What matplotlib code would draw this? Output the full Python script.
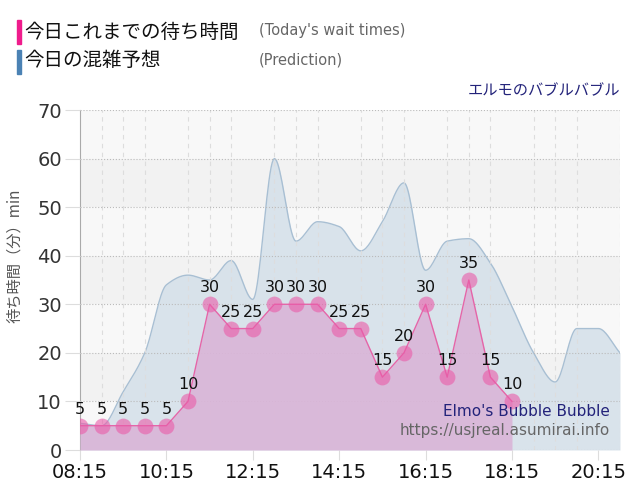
import matplotlib
matplotlib.use("Agg")
import matplotlib.pyplot as plt
import numpy as np

plt.rcParams["font.family"] = ["DejaVu Sans", "Noto Sans CJK JP"]
CJK = ["Noto Sans CJK JP", "DejaVu Sans"]

# wait times recorded today, every 30 min from 08:15
wait_times = ["08:15", "08:45", "09:15", "09:45", "10:15", "10:45", "11:15",
              "11:45", "12:15", "12:45", "13:15", "13:45", "14:15", "14:45",
              "15:15", "15:45", "16:15", "16:45", "17:15", "17:45", "18:15"]
wait_values = [5, 5, 5, 5, 5, 10, 30, 25, 25, 30, 30, 30, 25, 25,
               15, 20, 30, 15, 35, 15, 10]

# predicted crowding, every 30 min from 08:15 to 20:45
pred_times = ["08:15", "08:45", "09:15", "09:45", "10:15", "10:45", "11:15",
              "11:45", "12:15", "12:45", "13:15", "13:45", "14:15", "14:45",
              "15:15", "15:45", "16:15", "16:45", "17:15", "17:45", "18:15",
              "18:45", "19:15", "19:45", "20:15", "20:45"]
pred_values = [5.5, 5, 12, 20, 34, 36, 35, 39, 31, 60, 43, 47, 46, 41,
               47, 55, 37, 43, 43.5, 38.5, 29.5, 20, 14, 25, 25, 20]

tick_labels = ["08:15", "10:15", "12:15", "14:15", "16:15", "18:15", "20:15"]


def to_min(t):
    h, m = t.split(":")
    return int(h) * 60 + int(m)


def pchip(x, y, n=20):
    # monotone cubic drawing of the curve between the data points
    x = np.asarray(x, float)
    y = np.asarray(y, float)
    h = np.diff(x)
    d = np.diff(y) / h
    m = np.zeros_like(y)
    for i in range(1, len(y) - 1):
        if d[i - 1] * d[i] > 0:
            w1 = 2 * h[i] + h[i - 1]
            w2 = h[i] + 2 * h[i - 1]
            m[i] = (w1 + w2) / (w1 / d[i - 1] + w2 / d[i])
    m[0] = d[0]
    m[-1] = d[-1]
    xs, ys = [], []
    for i in range(len(h)):
        t = np.linspace(0, 1, n, endpoint=False)
        h00 = 2 * t**3 - 3 * t**2 + 1
        h10 = t**3 - 2 * t**2 + t
        h01 = -2 * t**3 + 3 * t**2
        h11 = t**3 - t**2
        xs.append(x[i] + t * h[i])
        ys.append(h00 * y[i] + h10 * h[i] * m[i] + h01 * y[i + 1] + h11 * h[i] * m[i + 1])
    xs.append([x[-1]])
    ys.append([y[-1]])
    return np.concatenate(xs), np.concatenate(ys)


wx = [to_min(t) for t in wait_times]
px = [to_min(t) for t in pred_times]

fig = plt.figure(figsize=(6.4, 5), dpi=100)
ax = fig.add_axes([0.125, 0.1, 0.84375, 0.68])

x0, x1 = to_min("08:15"), to_min("20:45")
ax.set_xlim(x0, x1)
ax.set_ylim(0, 70)

# alternating background bands
for k in range(7):
    ax.axhspan(k * 10, (k + 1) * 10, color="#f8f8f8" if k % 2 == 0 else "#f2f2f2",
               lw=0, zorder=0)

sx, sy = pchip(px, pred_values)
ax.fill_between(sx, 0, sy, color="#d6e1ea", alpha=0.9, lw=0, zorder=1)
ax.plot(sx, sy, color="#a8bfd3", lw=1, zorder=2)

ax.fill_between(wx, 0, wait_values, color="#dab5d8", alpha=0.9, lw=0, zorder=3)
ax.plot(wx, wait_values, color="#e565a8", lw=1, zorder=4)
ax.scatter(wx, wait_values, s=130, color="#ea5aa8", alpha=0.6, lw=0, zorder=5)
for xv, yv in zip(wx, wait_values):
    ax.annotate(str(yv), (xv, yv), xytext=(0, 6.5), textcoords="offset points",
                ha="center", va="bottom", fontsize=11.5, color="#111111", zorder=6)

ax.set_xticks([to_min(t) for t in tick_labels])
ax.set_xticklabels(tick_labels, fontsize=14, color="#111111")
ax.set_xticks(range(x0, x1 + 1, 30), minor=True)
ax.set_yticks(range(0, 71, 10))
ax.tick_params(axis="y", labelsize=14, labelcolor="#333333", length=11,
               color="#dddddd", pad=2)
ax.tick_params(axis="x", which="major", length=7, color="#dddddd", pad=2)
ax.tick_params(axis="x", which="minor", length=0)
ax.grid(axis="x", which="minor", ls=(0, (4, 4)), color="#dddddd", lw=0.8, zorder=1.5)
ax.grid(axis="y", ls=":", color="#bbbbbb", lw=0.8)
ax.set_axisbelow(False)
for s in ["top", "right", "bottom"]:
    ax.spines[s].set_visible(False)
ax.spines["left"].set_color("#aaaaaa")
ax.set_ylabel("待ち時間（分）min", fontsize=11, color="#555555", labelpad=4,
              family=CJK)
ax.yaxis.set_label_coords(-0.105, 0.57)

# header legend
fig.patches.append(plt.Rectangle((17 / 640, 1 - 44 / 500), 4 / 640, 24 / 500,
                                 transform=fig.transFigure, color="#ef1c8c"))
fig.patches.append(plt.Rectangle((17 / 640, 1 - 74 / 500), 4 / 640, 24 / 500,
                                 transform=fig.transFigure, color="#4b82b4"))
fig.text(24 / 640, 1 - 32 / 500, "今日これまでの待ち時間", fontsize=14, va="center",
         color="#111111", family=CJK)
fig.text(24 / 640, 1 - 61 / 500, "今日の混雑予想", fontsize=14, va="center",
         color="#111111", family=CJK)
fig.text(259 / 640, 1 - 31 / 500, "(Today's wait times)", fontsize=10.5,
         va="center", color="#666666")
fig.text(259 / 640, 1 - 60 / 500, "(Prediction)", fontsize=10.5, va="center",
         color="#666666")
fig.text(620 / 640, 1 - 91 / 500, "エルモのバブルバブル", fontsize=11, ha="right",
         va="center", color="#23237a", family=CJK)

ax.text(610 / 640, 1 - 411 / 500, "Elmo's Bubble Bubble", transform=fig.transFigure,
        fontsize=11, ha="right", va="center", color="#23237a", zorder=7)
ax.text(610 / 640, 1 - 431 / 500, "https://usjreal.asumirai.info",
        transform=fig.transFigure, fontsize=11, ha="right", va="center",
        color="#666666", zorder=7)

fig.savefig("out.png", dpi=100)
